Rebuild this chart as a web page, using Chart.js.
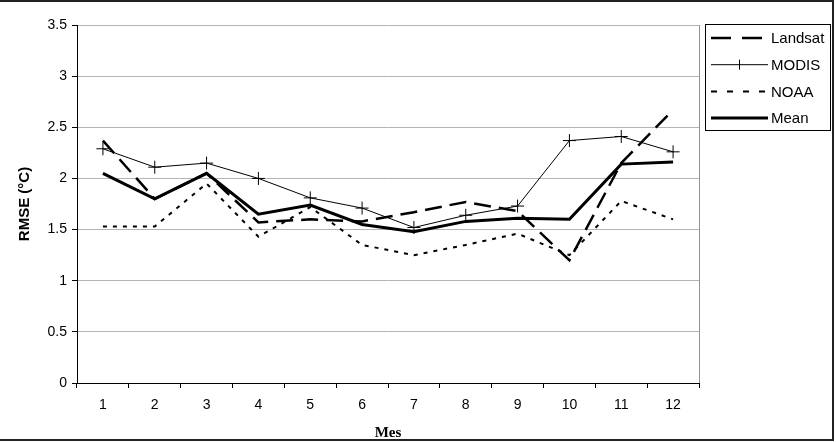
<!DOCTYPE html>
<html>
<head>
<meta charset="utf-8">
<script src="https://cdn.jsdelivr.net/npm/chart.js@4"></script>
<style>
  html, body { margin: 0; padding: 0; background: #fff; }
  #wrap { width: 836px; height: 442px; position: relative; }
</style>
</head>
<body>
<div id="wrap"><canvas id="rmseChart" width="836" height="442"></canvas></div>
<script>
  const months = ['1', '2', '3', '4', '5', '6', '7', '8', '9', '10', '11', '12'];
  const landsat = [2.37, 1.80, 2.05, 1.57, 1.60, 1.58, 1.67, 1.77, 1.68, 1.20, 2.15, 2.67];
  const modis = [2.29, 2.11, 2.15, 2.00, 1.81, 1.71, 1.52, 1.64, 1.73, 2.37, 2.41, 2.26];
  const noaa = [1.53, 1.53, 1.95, 1.43, 1.72, 1.35, 1.25, 1.35, 1.46, 1.25, 1.78, 1.60];
  const mean = [2.05, 1.80, 2.05, 1.65, 1.74, 1.55, 1.48, 1.58, 1.61, 1.60, 2.14, 2.16];
  const yTicks = [0, 0.5, 1, 1.5, 2, 2.5, 3, 3.5];

  const sansFont = "'Liberation Sans', Arial, sans-serif";

  // legend dash patterns are a bit longer than on the plot
  const legendDash = { Landsat: [20, 11], MODIS: [], NOAA: [6, 10], Mean: [] };

  // legend + frames drawn by hand, excel style
  const excelFrame = {
    id: 'excelFrame',
    afterDraw(chart) {
      const ctx = chart.ctx;
      const area = chart.chartArea;
      ctx.save();
      // plot area right border
      ctx.strokeStyle = '#909090';
      ctx.lineWidth = 1;
      ctx.beginPath();
      ctx.moveTo(Math.round(area.right) + 0.5, area.top);
      ctx.lineTo(Math.round(area.right) + 0.5, area.bottom);
      ctx.stroke();

      // outer frame (no left side)
      ctx.strokeStyle = '#222';
      ctx.lineWidth = 2;
      ctx.beginPath();
      ctx.moveTo(0, 1);
      ctx.lineTo(833, 1);
      ctx.lineTo(833, 440);
      ctx.lineTo(0, 440);
      ctx.stroke();

      // legend box
      const lx = 705, ly = 24, lw = 125, lh = 106;
      ctx.lineWidth = 1;
      ctx.strokeStyle = '#000';
      ctx.strokeRect(lx + 0.5, ly + 0.5, lw, lh);

      ctx.font = '15px ' + sansFont;
      ctx.fillStyle = '#000';
      ctx.textBaseline = 'middle';
      chart.data.datasets.forEach((ds, i) => {
        const y = ly + 14 + i * 26.7;
        ctx.save();
        ctx.strokeStyle = '#000';
        ctx.lineWidth = ds.borderWidth;
        ctx.setLineDash(legendDash[ds.label]);
        ctx.beginPath();
        ctx.moveTo(lx + 6, y);
        ctx.lineTo(lx + 63, y);
        ctx.stroke();
        if (ds.pointStyle === 'cross') {
          ctx.setLineDash([]);
          ctx.lineWidth = 1;
          ctx.beginPath();
          ctx.moveTo(lx + 34.5, y - 5);
          ctx.lineTo(lx + 34.5, y + 5);
          ctx.stroke();
        }
        ctx.restore();
        ctx.fillText(ds.label, lx + 66, y + 1);
      });
      ctx.restore();
    }
  };

  const rmseCanvas = document.getElementById('rmseChart');

  const rmseChart = new Chart(rmseCanvas, {
    type: 'line',
    data: {
      labels: months,
      datasets: [
        {
          label: 'Landsat',
          data: landsat,
          borderColor: '#000',
          borderWidth: 2.5,
          borderDash: [17, 8],
          pointRadius: 0,
          tension: 0
        },
        {
          label: 'MODIS',
          data: modis,
          borderColor: '#000',
          borderWidth: 1,
          pointStyle: 'cross',
          pointRadius: 6.5,
          pointBorderWidth: 1,
          pointBorderColor: '#000',
          tension: 0
        },
        {
          label: 'NOAA',
          data: noaa,
          borderColor: '#000',
          borderWidth: 2,
          borderDash: [4, 6],
          pointRadius: 0,
          tension: 0
        },
        {
          label: 'Mean',
          data: mean,
          borderColor: '#000',
          borderWidth: 3,
          pointRadius: 0,
          tension: 0
        }
      ]
    },
    options: {
      responsive: false,
      animation: false,
      devicePixelRatio: 1,
      layout: { padding: { left: 0, right: 137, top: 25, bottom: 0 } },
      plugins: {
        legend: { display: false },
        tooltip: { enabled: false }
      },
      scales: {
        x: {
          offset: true,
          grid: {
            offset: true,
            drawOnChartArea: false,
            drawTicks: true,
            tickLength: 5,
            color: '#000'
          },
          border: { color: '#000', width: 1 },
          ticks: {
            color: '#000',
            font: { family: sansFont, size: 14 },
            padding: 9,
            maxRotation: 0
          },
          title: {
            display: true,
            text: 'Mes',
            color: '#000',
            font: { family: "'Liberation Serif', 'Times New Roman', serif", size: 15, weight: 'bold' },
            padding: { top: 2, bottom: 0 }
          },
          afterFit(scale) { scale.height = 59; }
        },
        y: {
          min: 0,
          max: 3.5,
          afterBuildTicks(scale) { scale.ticks = yTicks.map(v => ({ value: v })); },
          grid: {
            color: '#b4b4b4',
            drawTicks: true,
            tickLength: 5,
            tickColor: '#000'
          },
          border: { color: '#000', width: 1 },
          ticks: {
            color: '#000',
            font: { family: sansFont, size: 14 },
            padding: 5,
            callback: v => String(v)
          },
          title: {
            display: true,
            text: 'RMSE (°C)',
            color: '#000',
            font: { family: sansFont, size: 15, weight: 'bold' },
            padding: { top: 16, bottom: 10 }
          },
          afterFit(scale) { scale.width = 77; }
        }
      }
    },
    plugins: [excelFrame]
  });
</script>
</body>
</html>
